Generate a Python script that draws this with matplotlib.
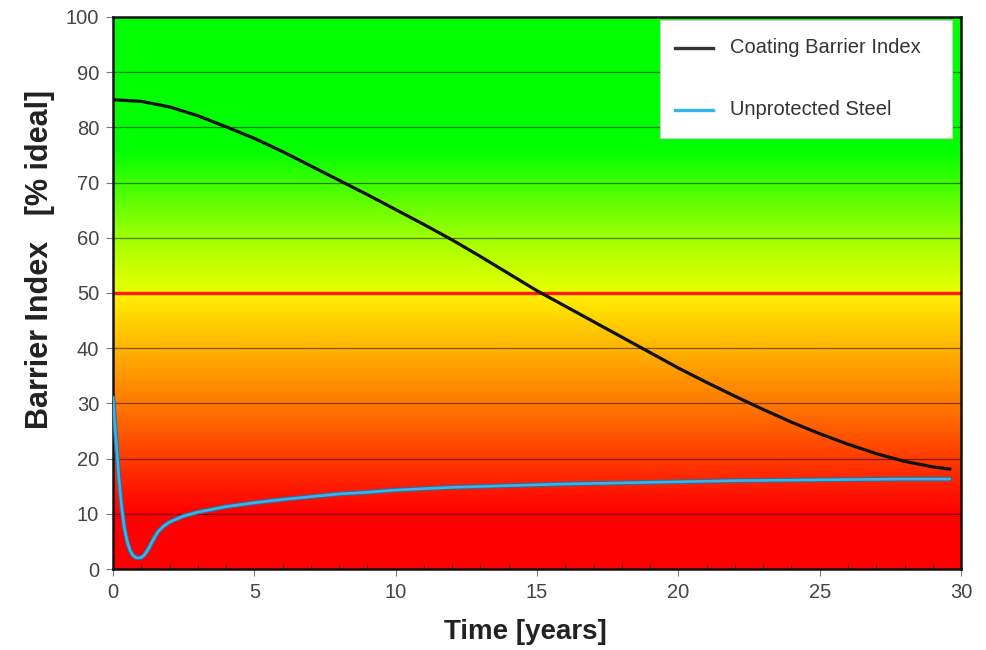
import numpy as np
import matplotlib
matplotlib.use('Agg')
import matplotlib.pyplot as plt
from matplotlib.colors import LinearSegmentedColormap
from matplotlib.patches import Rectangle

plt.rcParams['font.family'] = ['Liberation Sans', 'DejaVu Sans']

# coating barrier index (years, % ideal)
coat_t = [0, 1, 2, 3, 4, 5, 6, 7, 8, 9, 10, 11, 12, 13, 14, 15, 16, 17, 18, 19,
          20, 21, 22, 23, 24, 25, 26, 27, 28, 29, 29.6]
coat_v = [85.0, 84.7, 83.7, 82.1, 80.1, 78.0, 75.6, 73.0, 70.4, 67.8, 65.1, 62.4,
          59.6, 56.6, 53.5, 50.4, 47.6, 44.8, 42.0, 39.2, 36.4, 33.8, 31.3, 28.9,
          26.6, 24.5, 22.6, 20.9, 19.5, 18.5, 18.1]

# unprotected steel
steel_t = [0, 0.1, 0.2, 0.3, 0.4, 0.5, 0.6, 0.7, 0.8, 0.9, 1.0, 1.1, 1.2, 1.3, 1.4,
           1.5, 1.6, 1.8, 2.0, 2.5, 3, 4, 5, 6, 7, 8, 9, 10, 12, 14, 16, 18, 20,
           22, 24, 26, 28, 29.6]
steel_v = [31, 24, 17, 11.5, 7.5, 5.0, 3.4, 2.5, 2.1, 2.0, 2.1, 2.5, 3.2, 4.1, 5.1,
           6.0, 6.8, 7.8, 8.5, 9.6, 10.3, 11.3, 12.0, 12.6, 13.1, 13.6, 13.9, 14.3,
           14.8, 15.1, 15.4, 15.6, 15.8, 16.0, 16.1, 16.2, 16.3, 16.3]

threshold = 50
labels = ['Coating Barrier Index', 'Unprotected Steel']

# background colour stops (fraction of y range, colour)
bg_stops = [(0.0, '#ff0000'), (0.10, '#ff0000'), (0.20, '#ff3c00'), (0.30, '#ff7a00'),
            (0.40, '#ffb400'), (0.495, '#fff000'), (0.505, '#e6ff00'), (0.60, '#a0ff00'),
            (0.68, '#50ff00'), (0.76, '#00ff00'), (1.0, '#00ff00')]

fig = plt.figure(figsize=(9.87, 6.5), dpi=100)
ax = fig.add_axes([0.1145, 0.1246, 0.8592, 0.8494])

cmap = LinearSegmentedColormap.from_list('bg', bg_stops)
grad = np.linspace(0, 1, 500).reshape(-1, 1)
ax.imshow(grad, cmap=cmap, origin='lower', extent=[0, 30, 0, 100], aspect='auto', zorder=0)

for yv in range(10, 100, 10):
    ax.axhline(yv, color='black', lw=0.9, alpha=0.5, zorder=1)
ax.axhline(threshold, color='#ff1a00', lw=2.4, zorder=2)

ax.plot(coat_t, coat_v, color='#111111', lw=2.3, zorder=3)
ax.plot(steel_t, steel_v, color='#2a6f9a', lw=3.4, zorder=3, solid_capstyle='round')
ax.plot(steel_t, steel_v, color='#3fb0e8', lw=1.9, zorder=4, solid_capstyle='round')

ax.set_xlim(0, 30)
ax.set_ylim(0, 100)
ax.set_xticks(range(0, 31, 5))
ax.set_xticks(range(0, 31, 1), minor=True)
ax.set_yticks(range(0, 101, 10))
ax.tick_params(axis='both', which='major', direction='out', length=5, pad=5,
               labelsize=14.5, labelcolor='#444444', color='#777777')
ax.tick_params(axis='x', which='minor', direction='in', length=4, color='#333333')
for sp in ax.spines.values():
    sp.set_linewidth(1.8)
    sp.set_color('#111111')

fig.text(525 / 987, 1 - 632 / 650, 'Time [years]', fontsize=20, fontweight='bold',
         color='#222222', ha='center', va='center')
fig.text(40 / 987, 1 - 259 / 650, 'Barrier Index   [% ideal]', fontsize=22,
         fontweight='bold', color='#222222', ha='center', va='center', rotation=90)

# legend box drawn by hand to match the layout
ax.add_patch(Rectangle((0.645, 0.781), 0.344, 0.2136, transform=ax.transAxes,
                       facecolor='white', edgecolor='#cccccc', lw=0.8, zorder=5))
leg_colors = ['#333333', '#33b5f0']
leg_y = [0.9438, 0.8315]
for lab, c, yy in zip(labels, leg_colors, leg_y):
    ax.plot([0.6627, 0.7075], [yy, yy], color=c, lw=2.4, transform=ax.transAxes, zorder=6)
    ax.text(0.7276, yy, lab, transform=ax.transAxes, fontsize=14.5, color='#333333',
            ha='left', va='center', zorder=6)

fig.savefig('out.png', dpi=100)
